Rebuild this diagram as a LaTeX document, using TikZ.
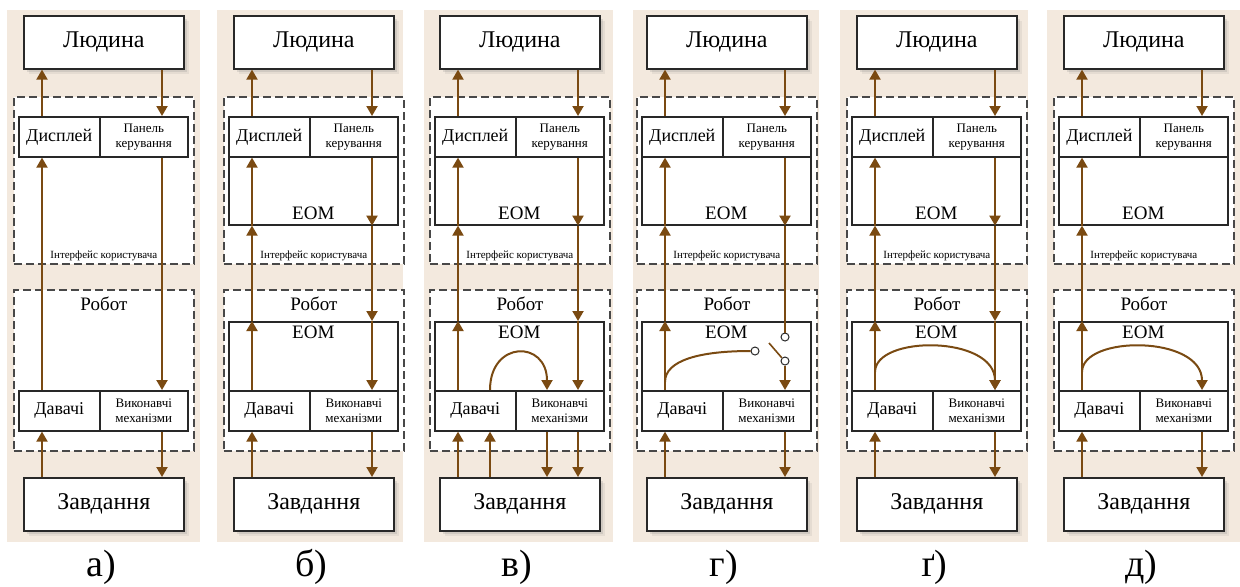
\documentclass[tikz,border=0pt]{standalone}
\usepackage{fontspec}
\setmainfont{Liberation Serif}
\usetikzlibrary{arrows.meta,shadows}

\definecolor{panelbg}{RGB}{243,233,222}
\definecolor{flowbrown}{RGB}{122,74,18}
\definecolor{boxline}{RGB}{40,40,40}

\begin{document}
\begin{tikzpicture}[
        x=0.5pt, y=-0.5pt,
        every node/.style={font=\rmfamily},
        flow/.style={flowbrown, line width=1pt, ->, >={Triangle[length=5pt,width=5.5pt]}},
        wire/.style={flowbrown, line width=1pt},
        box/.style={draw=boxline, line width=0.8pt, fill=white, inner sep=0pt, anchor=north west},
        end box/.style={box, minimum width=80pt, minimum height=26.5pt, font=\rmfamily\fontsize{12}{14}\selectfont,
            drop shadow={shadow xshift=2.6pt, shadow yshift=-2.6pt, opacity=0.12},
            drop shadow={shadow xshift=1.8pt, shadow yshift=-1.8pt, opacity=0.2}},
        group box/.style={box, draw=boxline!85, dash pattern=on 4pt off 2pt, line width=0.9pt, minimum width=90pt},
        cell/.style={box, minimum height=20pt, font=\rmfamily\fontsize{9}{11}\selectfont},
        small cell/.style={box, minimum height=20pt, align=center, font=\rmfamily\fontsize{6.5}{7.5}\selectfont},
        eom box/.style={box, minimum width=84.5pt},
        eom text/.style={anchor=base, font=\rmfamily\fontsize{9.5}{11}\selectfont},
        contact/.style={circle, draw=boxline, fill=white, line width=0.5pt, inner sep=0pt, minimum size=4pt}
      ]
      \useasboundingbox (0,0) rectangle (1240,586);

      % panels
      \foreach \p/\X/\bl/\br/\lbl in {a/18/7/200/а), b/228/217/403/б), c/434/424/613/в),
                                      d/641/633/819/г), e/851/840/1028/ґ), f/1058/1047/1240/д)}{
        \fill[panelbg] (\bl,10) rectangle (\br,542);
        \node[end box] (\p-man) at (\X+5,15) {Людина};
        \node[group box, minimum height=83.5pt,
              label={[name=\p-uitxt, anchor=base, yshift=3pt, font=\rmfamily\fontsize{5.5}{6}\selectfont]south:Інтерфейс користувача}]
              (\p-ui) at (\X-5,96) {};
        \node[cell, minimum width=40.5pt] (\p-disp) at (\X,116) {Дисплей};
        \node[small cell, minimum width=44pt] (\p-pan) at (\X+81,116) {Панель\\керування};
        \node[group box, minimum height=80.5pt,
              label={[name=\p-robtxt, anchor=base, yshift=-10.5pt, font=\rmfamily\fontsize{9.5}{11}\selectfont]north:Робот}]
              (\p-robot) at (\X-5,289) {};
        \node[cell, minimum width=40.5pt] (\p-sens) at (\X,390) {Давачі};
        \node[small cell, minimum width=44pt] (\p-act) at (\X+81,390) {Виконавчі\\механізми};
        \node[end box] (\p-task) at (\X+5,477) {Завдання};
        \node[font=\rmfamily\fontsize{19}{22}\selectfont] (\p-cap) at (\X+83,567) {\lbl};
        \coordinate (\p-l) at (\X+24,0);
        \coordinate (\p-r) at (\X+144,0);
      }

      \foreach \p/\X in {b/228, c/434, d/641, e/851, f/1058}{
        \node[eom box, minimum height=34pt, label={[name=\p-eomtxt, eom text, yshift=3pt]south:ЕОМ}]
              (\p-ecom) at (\X,156) {};
        \node[eom box, minimum height=34.5pt, label={[name=\p-reomtxt, eom text, yshift=-8.5pt]north:ЕОМ}]
              (\p-recom) at (\X,321) {};
      }

      % arrows
      \foreach \p in {a,b,c,d,e,f}{
        \draw[flow] (\p-disp.north -| \p-l) -- (\p-man.south -| \p-l);
        \draw[flow] (\p-man.south -| \p-r) -- (\p-pan.north -| \p-r);
        \draw[flow] (\p-task.north -| \p-l) -- (\p-sens.south -| \p-l);
        \draw[flow] (\p-act.south -| \p-r) -- (\p-task.north -| \p-r);
      }
      \draw[flow] (a-sens.north -| a-l) -- (a-disp.south -| a-l);
      \draw[flow] (a-pan.south -| a-r) -- (a-act.north -| a-r);

      \foreach \p in {b,c,d,e,f}{
        \draw[flow] (\p-sens.north -| \p-l) -- (\p-recom.north -| \p-l);
        \draw[flow] (\p-recom.north -| \p-l) -- (\p-ecom.south -| \p-l);
        \draw[flow] (\p-ecom.south -| \p-l) -- (\p-disp.south -| \p-l);
      }
      \foreach \p in {b,c,d,e}
        \draw[flow] (\p-pan.south -| \p-r) -- (\p-ecom.south -| \p-r);
      \foreach \p in {b,c,e}{
        \draw[flow] (\p-ecom.south -| \p-r) -- (\p-recom.north -| \p-r);
        \draw[flow] (\p-recom.north -| \p-r) -- (\p-act.north -| \p-r);
      }

      % в: direct loop sensors -> actuators
      \coordinate (c-m1) at (434+56,0);
      \coordinate (c-m2) at (434+113,0);
      \draw[flow] (c-sens.north -| c-m1) .. controls +(0,-50) and +(0,-50) .. (c-act.north -| c-m2);
      \draw[flow] (c-task.north -| c-m1) -- (c-sens.south -| c-m1);
      \draw[flow] (c-act.south -| c-m2) -- (c-task.north -| c-m2);

      % г: switch
      \node[contact] (d-sw1) at (641+144,337) {};
      \node[contact] (d-sw2) at (641+144,361) {};
      \node[contact] (d-sw0) at (641+114,351) {};
      \coordinate (d-tap) at (641+24,382);
      \coordinate (d-lever) at (641+128,343);
      \draw[wire] (d-ecom.south -| d-r) -- (d-sw1.north);
      \draw[flow] (d-sw2.south) -- (d-act.north -| d-r);
      \draw[wire] (d-tap) .. controls +(0,-22) and +(-50,0) .. (d-sw0.west);
      \draw[wire, line width=0.8pt] (d-lever) -- (d-sw2.north west);

      % ґ, д: loop over the top
      \coordinate (e-tap) at (851+24,372);
      \coordinate (f-tap) at (1058+24,372);
      \foreach \p in {e,f}
        \draw[flow] (\p-tap) .. controls +(0,-37) and +(0,-55) .. (\p-act.north -| \p-r);
\end{tikzpicture}
\end{document}
